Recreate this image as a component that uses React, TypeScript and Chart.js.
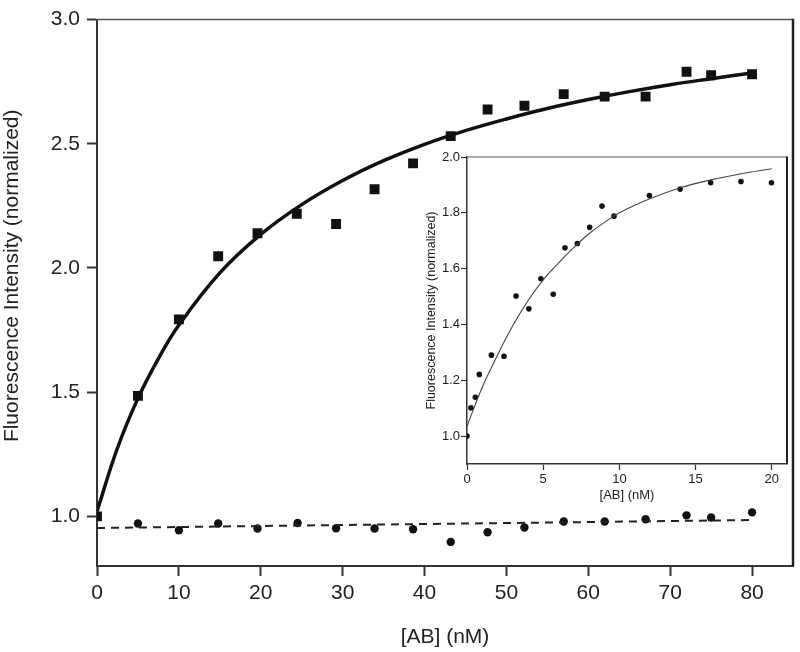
import React, { useEffect, useRef } from "react";
import { Chart, registerables } from "chart.js";

Chart.register(...registerables);

// ---- Main chart data ----
const squareX = [0, 5, 10, 14.8, 19.6, 24.4, 29.2, 33.9, 38.6, 43.2, 47.7, 52.2, 57, 62, 67, 72, 75, 80];
const squareY = [1.0, 1.485, 1.793, 2.047, 2.14, 2.218, 2.177, 2.317, 2.421, 2.531, 2.638, 2.653, 2.70, 2.69, 2.69, 2.79, 2.776, 2.78];

const circleX = [5, 10, 14.8, 19.6, 24.5, 29.2, 33.9, 38.6, 43.2, 47.7, 52.2, 57, 62, 67, 72, 75, 80];
const circleY = [0.971, 0.944, 0.971, 0.951, 0.973, 0.952, 0.951, 0.948, 0.897, 0.936, 0.955, 0.979, 0.979, 0.988, 1.004, 0.995, 1.016];

const fitX = [0, 2.5, 5, 7.5, 10, 15, 20, 25, 30, 35, 40, 45, 50, 55, 60, 65, 70, 75, 80];
const fitY = [1.02, 1.275, 1.475, 1.635, 1.77, 1.98, 2.135, 2.255, 2.352, 2.432, 2.498, 2.553, 2.60, 2.642, 2.678, 2.71, 2.738, 2.762, 2.785];

const dashX = [0, 80];
const dashY = [0.953, 0.985];

const mainXTicks = [0, 10, 20, 30, 40, 50, 60, 70, 80];
const mainYTicks = [1.0, 1.5, 2.0, 2.5, 3.0];

// ---- Inset data ----
const insetX = [0, 0.26, 0.55, 0.81, 1.6, 2.43, 3.22, 4.06, 4.85, 5.66, 6.43, 7.24, 8.05, 8.86, 9.65, 11.97, 13.99, 15.99, 17.98, 19.98];
const insetY = [1.0, 1.101, 1.139, 1.221, 1.29, 1.286, 1.502, 1.456, 1.564, 1.508, 1.675, 1.69, 1.748, 1.824, 1.788, 1.862, 1.885, 1.908, 1.912, 1.908];

const insetFitX = [0, 1, 2, 3, 4, 5, 6, 7, 8, 9, 10, 12, 14, 16, 18, 20];
const insetFitY = [1.035, 1.175, 1.29, 1.395, 1.485, 1.56, 1.62, 1.675, 1.725, 1.765, 1.80, 1.85, 1.89, 1.918, 1.94, 1.958];

const insetXTicks = [0, 5, 10, 15, 20];
const insetYTicks = [1.0, 1.2, 1.4, 1.6, 1.8, 2.0];

const MAIN_Y_TITLE = "Fluorescence Intensity (normalized)";

const FONT = "'Liberation Sans', Arial, Helvetica, sans-serif";
const TEXT = "#222";

const toPts = (xs: number[], ys: number[]) => xs.map((x, i) => ({ x, y: ys[i] }));

function framePlugin(topW: number, rightW: number, fillWhite: boolean) {
  return {
    id: "frame" + topW + rightW,
    beforeDatasetsDraw(chart: any) {
      const { ctx, chartArea: a } = chart;
      ctx.save();
      ctx.lineCap = "butt";
      ctx.strokeStyle = "#555";
      ctx.lineWidth = topW;
      ctx.beginPath();
      ctx.moveTo(a.left, a.top);
      ctx.lineTo(a.right, a.top);
      ctx.stroke();
      ctx.strokeStyle = "#222";
      ctx.lineWidth = rightW;
      ctx.beginPath();
      ctx.moveTo(a.right, a.top - topW / 2);
      ctx.lineTo(a.right, a.bottom);
      ctx.stroke();
      ctx.restore();
    },
    beforeDraw(chart: any) {
      if (!fillWhite) return;
      const { ctx, chartArea: a } = chart;
      ctx.save();
      ctx.fillStyle = "#fff";
      ctx.fillRect(a.left, a.top, a.right - a.left, a.bottom - a.top);
      ctx.restore();
    },
  };
}

// Draws the main y-axis title where the original places it (slightly above the axis centre).
const yTitlePlugin = {
  id: "mainYTitle",
  afterDraw(chart: any) {
    const { ctx, chartArea: a } = chart;
    ctx.save();
    ctx.translate(12, (a.top + a.bottom) / 2 - 17);
    ctx.rotate(-Math.PI / 2);
    ctx.font = `21px ${FONT}`;
    ctx.fillStyle = TEXT;
    ctx.textAlign = "center";
    ctx.textBaseline = "middle";
    ctx.fillText(MAIN_Y_TITLE, 0, 0);
    ctx.restore();
  },
};

export default function App() {
  const mainRef = useRef<HTMLCanvasElement | null>(null);
  const insetRef = useRef<HTMLCanvasElement | null>(null);

  useEffect(() => {
    document.body.style.margin = "0";
    Chart.defaults.font.family = FONT;
    Chart.defaults.color = TEXT;

    const main = new Chart(mainRef.current!, {
      type: "scatter",
      data: {
        datasets: [
          {
            data: toPts(dashX, dashY),
            showLine: true,
            borderColor: "#222",
            borderWidth: 2,
            borderDash: [8, 6],
            pointRadius: 0,
          },
          {
            data: toPts(fitX, fitY),
            showLine: true,
            borderColor: "#111",
            borderWidth: 3.5,
            tension: 0.4,
            pointRadius: 0,
          },
          {
            data: toPts(squareX, squareY),
            pointStyle: "rect",
            pointRadius: 7,
            backgroundColor: "#111",
            borderColor: "#111",
            borderWidth: 0,
          },
          {
            data: toPts(circleX, circleY),
            pointStyle: "circle",
            pointRadius: 4.2,
            backgroundColor: "#111",
            borderColor: "#111",
            borderWidth: 0,
          },
        ],
      },
      options: {
        responsive: false,
        animation: false,
        events: [],
        layout: { padding: { left: 0, right: 7, top: 17, bottom: 0 } },
        plugins: { legend: { display: false }, tooltip: { enabled: false } },
        scales: {
          x: {
            type: "linear",
            min: 0,
            max: 85,
            afterBuildTicks: (s: any) => {
              s.ticks = mainXTicks.map((v) => ({ value: v }));
            },
            afterFit: (s: any) => {
              s.height = 86;
            },
            grid: { display: true, drawOnChartArea: false, drawTicks: true, tickLength: 10, tickWidth: 2, tickColor: "#333" },
            border: { display: true, color: "#333", width: 2 },
            ticks: { font: { size: 21 }, color: TEXT, padding: 5, maxRotation: 0 },
            title: { display: true, text: "[AB] (nM)", font: { size: 21 }, color: TEXT, padding: { top: 0, bottom: 2 } },
          },
          y: {
            type: "linear",
            min: 0.8,
            max: 3.0,
            afterBuildTicks: (s: any) => {
              s.ticks = mainYTicks.map((v) => ({ value: v }));
            },
            afterFit: (s: any) => {
              s.width = 97;
            },
            grid: { display: true, drawOnChartArea: false, drawTicks: true, tickLength: 10, tickWidth: 2, tickColor: "#333" },
            border: { display: true, color: "#333", width: 2 },
            ticks: { font: { size: 21 }, color: TEXT, padding: 7, callback: (v: any) => Number(v).toFixed(1) },
            title: { display: false },
          },
        },
      },
      plugins: [framePlugin(1.5, 2.5, false), yTitlePlugin],
    } as any);

    const inset = new Chart(insetRef.current!, {
      type: "scatter",
      data: {
        datasets: [
          {
            data: toPts(insetFitX, insetFitY),
            showLine: true,
            borderColor: "#444",
            borderWidth: 1.1,
            tension: 0.4,
            pointRadius: 0,
          },
          {
            data: toPts(insetX, insetY),
            pointStyle: "circle",
            pointRadius: 2.8,
            backgroundColor: "#111",
            borderColor: "#111",
            borderWidth: 0,
          },
        ],
      },
      options: {
        responsive: false,
        animation: false,
        events: [],
        layout: { padding: { left: 0, right: 8, top: 12, bottom: 0 } },
        plugins: { legend: { display: false }, tooltip: { enabled: false } },
        scales: {
          x: {
            type: "linear",
            min: 0,
            max: 21,
            afterBuildTicks: (s: any) => {
              s.ticks = insetXTicks.map((v) => ({ value: v }));
            },
            afterFit: (s: any) => {
              s.height = 41;
            },
            grid: { display: true, drawOnChartArea: false, drawTicks: true, tickLength: 6, tickWidth: 1.2, tickColor: "#333" },
            border: { display: true, color: "#333", width: 1.5 },
            ticks: { font: { size: 13 }, color: TEXT, padding: 2, maxRotation: 0 },
            title: { display: true, text: "[AB] (nM)", font: { size: 13 }, color: TEXT, padding: { top: 0, bottom: 2 } },
          },
          y: {
            type: "linear",
            min: 0.9,
            max: 2.0,
            afterBuildTicks: (s: any) => {
              s.ticks = insetYTicks.map((v) => ({ value: v }));
            },
            afterFit: (s: any) => {
              s.width = 57;
            },
            grid: { display: true, drawOnChartArea: false, drawTicks: true, tickLength: 6, tickWidth: 1.2, tickColor: "#333" },
            border: { display: true, color: "#333", width: 1.5 },
            ticks: { font: { size: 13 }, color: TEXT, padding: 1, callback: (v: any) => Number(v).toFixed(1) },
            title: {
              display: true,
              text: "Fluorescence Intensity (normalized)",
              font: { size: 12.5 },
              color: TEXT,
              padding: { top: 14, bottom: 0 },
            },
          },
        },
      },
      plugins: [framePlugin(1, 2, true)],
    } as any);

    return () => {
      main.destroy();
      inset.destroy();
    };
  }, []);

  return (
    <div style={{ position: "absolute", left: 0, top: 0, width: 800, height: 652, background: "#fff" }}>
      <canvas ref={mainRef} width={800} height={652} style={{ position: "absolute", left: 0, top: 0, width: 800, height: 652 }} />
      <canvas ref={insetRef} width={385} height={360} style={{ position: "absolute", left: 410, top: 145, width: 385, height: 360 }} />
    </div>
  );
}
